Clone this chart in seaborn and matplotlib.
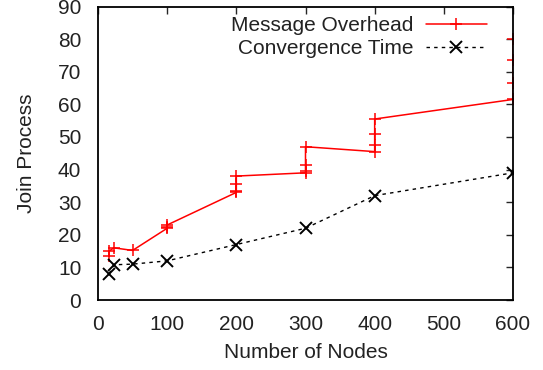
import matplotlib
matplotlib.use("Agg")
import matplotlib.pyplot as plt
import seaborn as sns
import pandas as pd

# Data
msg_nodes = [16, 16, 23, 50, 100, 100, 100,
             200, 200, 200, 200,
             300, 300, 300, 300,
             400, 400, 400, 400,
             600, 600, 600, 600]
msg_values = [13.5, 15.0, 16.0, 15.2, 22.0, 22.5, 23.0,
              33.0, 33.5, 35.5, 38.0,
              39.0, 39.5, 41.5, 47.0,
              45.5, 47.5, 51.0, 55.5,
              61.5, 66.5, 73.5, 80.0]
conv_nodes = [16, 23, 50, 100, 200, 300, 400, 600]
conv_values = [8.0, 10.8, 11.0, 12.0, 17.0, 22.0, 32.0, 39.0]
x_ticks = [0, 100, 200, 300, 400, 500, 600]
y_ticks = [0, 10, 20, 30, 40, 50, 60, 70, 80, 90]

sns.set_style("white")
plt.rcParams["font.family"] = ["Liberation Sans", "DejaVu Sans"]

fig = plt.figure(figsize=(5.43, 3.70), dpi=100)
ax = fig.add_axes([98 / 543, 1 - 300 / 370, (513 - 98) / 543, (300 - 6.5) / 370])

df_msg = pd.DataFrame({"nodes": msg_nodes, "value": msg_values})
df_conv = pd.DataFrame({"nodes": conv_nodes, "value": conv_values})

sns.lineplot(data=df_msg, x="nodes", y="value", ax=ax, estimator=None, sort=False,
             color="#ff0000", linewidth=1.1, marker="+", markersize=9,
             markeredgewidth=1.1, markeredgecolor="#ff0000",
             label="Message Overhead")
sns.lineplot(data=df_conv, x="nodes", y="value", ax=ax, estimator=None, sort=False,
             color="black", linewidth=1.0, linestyle=(0, (2.5, 3)),
             marker="x", markersize=8, markeredgewidth=1.4,
             markeredgecolor="black", label="Convergence Time")

ax.set_xlim(0, 600)
ax.set_ylim(0, 90)
ax.set_xticks(x_ticks)
ax.set_yticks(y_ticks)
ax.set_xlabel("Number of Nodes", fontsize=15, color="#222222", labelpad=6)
ax.set_ylabel("Join Process", fontsize=15, color="#222222", labelpad=16)
ax.tick_params(direction="in", length=5, width=1, top=True, right=True,
               labelsize=15, labelcolor="#222222")
ax.tick_params(axis="x", pad=11)
ax.tick_params(axis="y", pad=12)
for s in ax.spines.values():
    s.set_visible(True)
    s.set_color("black")
    s.set_linewidth(1.3)

leg = ax.legend(loc="upper right", frameon=False, fontsize=15, markerfirst=False,
                handlelength=2.9, handletextpad=0.6, labelspacing=0.2,
                borderaxespad=0.0, bbox_to_anchor=(495 / 543, 1 - 8 / 370),
                bbox_transform=fig.transFigure)
for t in leg.get_texts():
    t.set_color("#222222")

fig.savefig("out.png", dpi=100)
